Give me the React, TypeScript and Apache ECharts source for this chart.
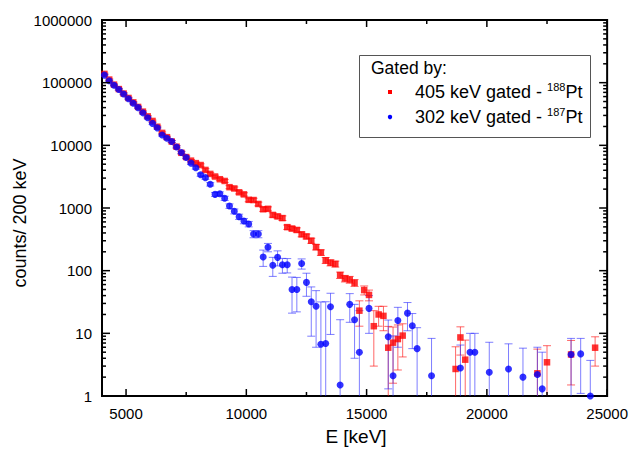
import React, { useEffect, useRef } from 'react';
import * as echarts from 'echarts';

// Energies (bin centres, keV), counts and errors
const redE = [
  4100, 4300, 4500, 4700, 4900, 5100, 5300, 5500, 5700, 5900,
  6100, 6300, 6500, 6700, 6900, 7100, 7300, 7500, 7700, 7900,
  8100, 8300, 8500, 8700, 8900, 9100, 9300, 9500, 9700, 9900,
  10100, 10300, 10500, 10700, 10900, 11100, 11300, 11500, 11700, 11900,
  12100, 12300, 12500, 12700, 12900, 13100, 13300, 13500, 13700, 13900,
  14100, 14300, 14500, 14700, 14900, 15100, 15300, 15500, 15700, 15900,
  16100, 16300, 16500,
  18700, 18900, 19100, 22100, 22500, 23500, 24500,
];
const redY = [
  138000, 112000, 93000, 79000, 67000, 57000, 48500, 41000, 34500, 29000,
  24500, 19800, 15800, 13500, 11500, 9500, 7600, 6500, 5700, 5200,
  4850, 4050, 3500, 3180, 2880, 2700, 2150, 2050, 1780, 1650,
  1350, 1340, 1160, 955, 970, 775, 735, 690, 495, 470,
  446, 380, 352, 301, 238, 195, 146, 134, 128, 85,
  75, 72, 64, 23, 49, 41, 13, 20, 19, 5.9,
  7.1, 8.1, 9.2,
  2.7, 8.6, 3.8, 2.3, 3.45, 4.6, 5.9,
];
const redErr = [
  4000, 3300, 2700, 2300, 2000, 1700, 1450, 1250, 1050, 900,
  750, 650, 550, 480, 420, 360, 300, 270, 240, 220,
  210, 190, 170, 160, 150, 140, 120, 115, 105, 100,
  90, 90, 80, 72, 72, 62, 60, 58, 40, 38,
  36, 33, 31, 28, 24, 20, 16, 15, 14, 10,
  9, 9, 8, 10, 8, 8, 10, 7, 8, 7,
  5.5, 5.5, 5,
  3.4, 4.1, 4.0, 3.3, 2.9, 3.1, 2.9,
];

const blueE = [
  4100, 4300, 4500, 4700, 4900, 5100, 5300, 5500, 5700, 5900,
  6100, 6300, 6500, 6700, 6900, 7100, 7300, 7500, 7700, 7900,
  8100, 8300, 8500, 8700, 8900, 9100, 9300, 9500, 9700, 9900,
  10100, 10300, 10500, 10700, 10900, 11100, 11300, 11500, 11700, 11900,
  12100, 12300, 12500, 12700, 12900, 13100, 13300, 13500,
  13900, 14300, 14500, 14700, 15100, 15900, 16100, 16300, 16700, 16900,
  17100, 17700, 18900, 19300, 19500, 20100, 20900, 21500, 22100, 22300,
  23500, 23900, 24300,
];
const blueY = [
  132000, 107000, 91000, 78000, 66000, 55500, 47000, 40000, 33000, 27600,
  22400, 19000, 14600, 13000, 11500, 9400, 7700, 6400, 5200, 4400,
  3400, 3050, 2390, 1650, 1690, 1430, 1075, 885, 727, 620,
  555, 385, 385, 165, 236, 122, 163, 124, 124, 50,
  50, 130, 65, 32, 27, 6.7, 6.9, 26.6,
  1.5, 29, 16.5, 5.0, 25, 8.8, 2.1, 16, 21, 13.2,
  5.7, 2.1, 2.8, 5.0, 5.0, 2.4, 2.7, 2.0, 2.2, 1.3,
  4.6, 4.7, 1.0,
];
const blueErr = [
  4000, 3300, 2800, 2400, 2000, 1750, 1500, 1300, 1100, 950,
  800, 700, 560, 500, 460, 400, 350, 300, 260, 230,
  190, 180, 150, 120, 120, 110, 90, 80, 70, 60,
  55, 50, 50, 48, 36, 41, 44, 33, 32, 29,
  28, 24, 26, 23, 21, 25, 25, 17,
  15, 14, 12.5, 18, 15, 7.5, 7, 10, 10, 7.5,
  6.6, 6.2, 3.7, 5, 5, 4.8, 4.1, 3.8, 3.8, 3.7,
  3.7, 3.6, 2.7,
];

const xMajorTicks = [5000, 10000, 15000, 20000, 25000];
const xMinorTicks = [7500, 12500, 17500, 22500];
const xLabelValues = [5000, 10000, 15000, 20000, 25000];
const yDecades = [1, 10, 100, 1000, 10000, 100000, 1000000];
const yMinorMultipliers = [2, 3, 4, 5, 6, 7, 8, 9];

const X_MIN = 4000;
const X_MAX = 25000;
const Y_MIN = 1;
const Y_MAX = 1000000;

const FONT = '"Liberation Sans", Arial, Helvetica, sans-serif';

export default function App() {
  const ref = useRef<HTMLDivElement>(null);

  useEffect(() => {
    const chart = echarts.init(ref.current as HTMLDivElement, null, { renderer: 'svg' });

    const redData = redE.map((e, i) => [e, redY[i], redErr[i]]);
    const blueData = blueE.map((e, i) => [e, blueY[i], blueErr[i]]);

    const xTickData = [
      ...xMajorTicks.map((v) => [v, Y_MIN, 7]),
      ...xMinorTicks.map((v) => [v, Y_MIN, 4]),
    ];
    const yTickData: number[][] = [];
    yDecades.forEach((d, i) => {
      yTickData.push([X_MIN, d, 8]);
      if (i < yDecades.length - 1) {
        yMinorMultipliers.forEach((m) => yTickData.push([X_MIN, d * m, 4]));
      }
    });

    const errRender = (color: string) => (params: any, api: any) => {
      const x = api.value(0);
      const y = api.value(1);
      const e = api.value(2);
      const lo = Math.max(y - e, 0.05);
      const hi = y + e;
      const p0 = api.coord([x, lo]);
      const p1 = api.coord([x, hi]);
      const cw = 4;
      const st = { stroke: color, lineWidth: 1 };
      return {
        type: 'group',
        children: [
          { type: 'line', shape: { x1: p0[0], y1: p0[1], x2: p1[0], y2: p1[1] }, style: st },
          { type: 'line', shape: { x1: p0[0] - cw, y1: p0[1], x2: p0[0] + cw, y2: p0[1] }, style: st },
          { type: 'line', shape: { x1: p1[0] - cw, y1: p1[1], x2: p1[0] + cw, y2: p1[1] }, style: st },
        ],
      };
    };

    const tickStyle = { stroke: '#000', lineWidth: 1.5 };

    const option: any = {
      animation: false,
      backgroundColor: '#fff',
      grid: {
        left: 102,
        right: 23,
        top: 20,
        bottom: 54,
        show: true,
        borderColor: '#000',
        borderWidth: 2,
        backgroundColor: 'transparent',
      },
      xAxis: {
        type: 'value',
        min: X_MIN,
        max: X_MAX,
        interval: 500,
        axisLine: { show: false },
        axisTick: { show: false },
        splitLine: { show: false },
        axisLabel: {
          color: '#000',
          fontSize: 15,
          fontFamily: FONT,
          margin: 10,
          formatter: (v: number) => (xLabelValues.indexOf(v) >= 0 ? String(v) : ''),
        },
      },
      yAxis: {
        type: 'log',
        logBase: 10,
        min: Y_MIN,
        max: Y_MAX,
        splitNumber: 6,
        axisLine: { show: false },
        axisTick: { show: false },
        splitLine: { show: false },
        minorTick: { show: false },
        axisLabel: {
          color: '#000',
          fontSize: 15,
          fontFamily: FONT,
          margin: 10,
          formatter: (v: number) => String(Math.round(v)),
        },
      },
      series: [
        {
          type: 'custom',
          name: 'xticks',
          coordinateSystem: 'cartesian2d',
          silent: true,
          z: 10,
          data: xTickData,
          renderItem: (params: any, api: any) => {
            const v = api.value(0);
            const len = api.value(2);
            const b = api.coord([v, Y_MIN]);
            const t = api.coord([v, Y_MAX]);
            return {
              type: 'group',
              children: [
                { type: 'line', shape: { x1: b[0], y1: b[1], x2: b[0], y2: b[1] - len }, style: tickStyle },
                { type: 'line', shape: { x1: t[0], y1: t[1], x2: t[0], y2: t[1] + len }, style: tickStyle },
              ],
            };
          },
        },
        {
          type: 'custom',
          name: 'yticks',
          coordinateSystem: 'cartesian2d',
          silent: true,
          z: 10,
          data: yTickData,
          renderItem: (params: any, api: any) => {
            const v = api.value(1);
            const len = api.value(2);
            const l = api.coord([X_MIN, v]);
            const r = api.coord([X_MAX, v]);
            return {
              type: 'group',
              children: [
                { type: 'line', shape: { x1: l[0], y1: l[1], x2: l[0] + len, y2: l[1] }, style: tickStyle },
                { type: 'line', shape: { x1: r[0], y1: r[1], x2: r[0] - len, y2: r[1] }, style: tickStyle },
              ],
            };
          },
        },
        {
          type: 'custom',
          name: 'red errors',
          coordinateSystem: 'cartesian2d',
          clip: true,
          silent: true,
          z: 2,
          data: redData,
          renderItem: errRender('rgba(255,0,0,0.6)'),
        },
        {
          type: 'custom',
          name: 'blue errors',
          coordinateSystem: 'cartesian2d',
          clip: true,
          silent: true,
          z: 2,
          data: blueData,
          renderItem: errRender('rgba(40,40,255,0.6)'),
        },
        {
          type: 'scatter',
          name: '405 keV gated - 188Pt',
          symbol: 'rect',
          symbolSize: 6.5,
          itemStyle: { color: '#ff0000' },
          z: 3,
          data: redData.map((d) => [d[0], d[1]]),
        },
        {
          type: 'scatter',
          name: '302 keV gated - 187Pt',
          symbol: 'circle',
          symbolSize: 7,
          itemStyle: { color: '#0000ff' },
          z: 4,
          data: blueData.map((d) => [d[0], d[1]]),
        },
      ],
      graphic: [
        {
          type: 'text',
          x: 20,
          y: 223,
          rotation: Math.PI / 2,
          style: {
            text: 'counts/ 200 keV',
            font: `18px ${FONT}`,
            fill: '#000',
            textAlign: 'center',
            textVerticalAlign: 'middle',
          },
        },
        {
          type: 'text',
          x: 356,
          y: 436,
          style: {
            text: 'E [keV]',
            font: `19px ${FONT}`,
            fill: '#000',
            textAlign: 'center',
            textVerticalAlign: 'middle',
          },
        },
        {
          type: 'rect',
          shape: { x: 359.5, y: 55.5, width: 231, height: 82 },
          style: { fill: '#fff', stroke: '#555', lineWidth: 1 },
          z: 100,
        },
        {
          type: 'text',
          x: 371,
          y: 68,
          z: 101,
          style: {
            text: 'Gated by:',
            font: `17.5px ${FONT}`,
            fill: '#000',
            textVerticalAlign: 'middle',
          },
        },
        {
          type: 'rect',
          shape: { x: 388, y: 90, width: 4, height: 4 },
          style: { fill: '#ff0000' },
          z: 101,
        },
        {
          type: 'circle',
          shape: { cx: 390, cy: 117, r: 2.2 },
          style: { fill: '#0000ff' },
          z: 101,
        },
        {
          type: 'text',
          x: 415,
          y: 92,
          z: 101,
          style: {
            text: '405 keV gated - {sup|188}Pt',
            font: `18px ${FONT}`,
            fill: '#000',
            textVerticalAlign: 'middle',
            lineHeight: 22,
            rich: {
              sup: { fontSize: 11, fontFamily: FONT, verticalAlign: 'top', lineHeight: 20, fill: '#000' },
            },
          },
        },
        {
          type: 'text',
          x: 415,
          y: 117,
          z: 101,
          style: {
            text: '302 keV gated - {sup|187}Pt',
            font: `18px ${FONT}`,
            fill: '#000',
            textVerticalAlign: 'middle',
            lineHeight: 22,
            rich: {
              sup: { fontSize: 11, fontFamily: FONT, verticalAlign: 'top', lineHeight: 20, fill: '#000' },
            },
          },
        },
      ],
    };

    chart.setOption(option);
    return () => {
      chart.dispose();
    };
  }, []);

  return (
    <div
      ref={ref}
      style={{ position: 'fixed', left: 0, top: 0, width: 631, height: 450, background: '#fff' }}
    />
  );
}
